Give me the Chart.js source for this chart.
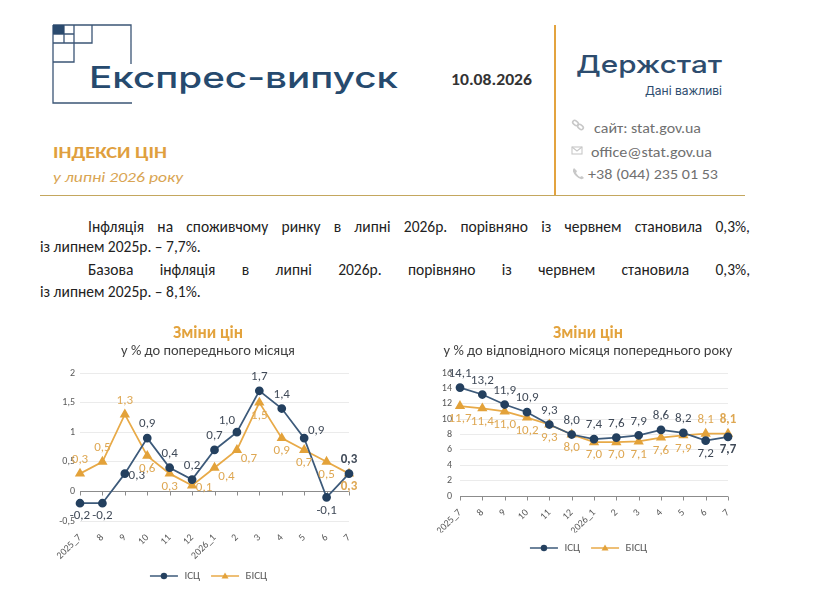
<!DOCTYPE html>
<html lang="uk">
<head>
<meta charset="utf-8">
<title>Експрес-випуск: індекси цін</title>
<script src="https://cdn.jsdelivr.net/npm/chart.js@4.4.1/dist/chart.umd.min.js"></script>
<style>
  html, body { margin: 0; padding: 0; background: #fff; }
  body { width: 829px; height: 599px; position: relative; overflow: hidden;
         font-family: Carlito, Lato, "Open Sans", sans-serif; }
  #head { position: absolute; left: 0; top: 0; }
  .ln { position: absolute; font-size: 15.5px; line-height: 20px; color: #222; }
  .just { text-align: justify; text-align-last: justify; }
  .left { white-space: nowrap; }
  .box { position: absolute; top: 318px; height: 276px; width: 376px; }
</style>
</head>
<body>

<svg id="head" width="829" height="200" xmlns="http://www.w3.org/2000/svg">
  <!-- logo squares -->
  <path d="M53 25H131V64 M53 25V103H132 M92 25V43H53 M74 25V62H53 M64 25V43 M53 34H74"
        fill="none" stroke="#3b5576" stroke-width="1.3"/>
  <rect x="53" y="25" width="11" height="9" fill="#2a4a6e"/>
  <text x="89" y="88" textLength="309" lengthAdjust="spacingAndGlyphs"
        font-family="Inter, 'Noto Sans', sans-serif" font-weight="500" font-size="29.5" fill="#264a6e">Експрес-випуск</text>
  <text x="451" y="85" textLength="81" lengthAdjust="spacingAndGlyphs"
        font-family="Carlito, Lato, sans-serif" font-weight="700" font-size="15.5" fill="#333">10.08.2026</text>

  <text x="53" y="158" textLength="114" lengthAdjust="spacingAndGlyphs"
        font-family="Carlito, Lato, sans-serif" font-weight="700" font-size="16.5" fill="#e09f3e">ІНДЕКСИ ЦІН</text>
  <text x="53" y="182" textLength="130" lengthAdjust="spacingAndGlyphs"
        font-family="Carlito, Lato, sans-serif" font-style="italic" font-size="15" fill="#d9a553">у липні 2026 року</text>

  <line x1="40" y1="195.5" x2="745" y2="195.5" stroke="#c4a75e" stroke-width="1"/>
  <line x1="555" y1="25" x2="555" y2="195" stroke="#e3a33f" stroke-width="2"/>

  <text x="576" y="73" textLength="146" lengthAdjust="spacingAndGlyphs"
        font-family="Inter, 'Noto Sans', sans-serif" font-weight="500" font-size="24" fill="#2d4c6e">Держстат</text>
  <text x="645" y="95" textLength="77" lengthAdjust="spacingAndGlyphs"
        font-family="Inter, 'Noto Sans', sans-serif" font-size="12" fill="#2d4c6e">Дані важливі</text>

  <!-- contact icons -->
  <g stroke="#c8c8c8" stroke-width="1.6" fill="none">
    <rect x="572.5" y="121" width="6" height="4" rx="2" transform="rotate(40 575.5 123)"/>
    <rect x="577.5" y="125" width="6" height="4" rx="2" transform="rotate(40 580.5 127)"/>
    <rect x="572" y="147" width="10" height="7" stroke-width="1.1"/>
    <path d="M572 147 L577 151 L582 147" stroke-width="1.1"/>
  </g>
  <path d="M574 168 q-3 3 2 8 q5 5 8 2 l-2 -2 l-2 1 q-2 -1 -4 -4 l1 -2 z" fill="#c8c8c8"/>

  <g font-family="Carlito, Lato, sans-serif" font-size="15" fill="#707070">
    <text x="594" y="133" textLength="107" lengthAdjust="spacingAndGlyphs">сайт: stat.gov.ua</text>
    <text x="591" y="157" textLength="121" lengthAdjust="spacingAndGlyphs">office@stat.gov.ua</text>
    <text x="588" y="179" textLength="130" lengthAdjust="spacingAndGlyphs">+38 (044) 235 01 53</text>
  </g>
</svg>

<div class="ln just" style="left:88px;top:217px;width:662px">Інфляція на споживчому ринку в липні 2026р. порівняно із червнем становила 0,3%,</div>
<div class="ln left" style="left:40px;top:237px">із липнем 2025р. – 7,7%.</div>
<div class="ln just" style="left:88px;top:260px;width:662px">Базова інфляція в липні 2026р. порівняно із червнем становила 0,3%,</div>
<div class="ln left" style="left:40px;top:282px">із липнем 2025р. – 8,1%.</div>

<div class="box" style="left:20px"><canvas id="mom"></canvas></div>
<div class="box" style="left:400px"><canvas id="yoy"></canvas></div>

<script>
// data
const months = ['2025_7', '8', '9', '10', '11', '12', '2026_1', '2', '3', '4', '5', '6', '7'];
const seriesNames = ['ІСЦ', 'БІСЦ'];

// y % to previous month
const cpiMoM  = [-0.2, -0.2, 0.3, 0.9, 0.4, 0.2, 0.7, 1.0, 1.7, 1.4, 0.9, -0.1, 0.3];
const coreMoM = [0.3, 0.5, 1.3, 0.6, 0.3, 0.1, 0.4, 0.7, 1.5, 0.9, 0.7, 0.5, 0.3];
const momTicks = [-0.5, 0, 0.5, 1, 1.5, 2];

// y % to same month of previous year
const cpiYoY  = [14.1, 13.2, 11.9, 10.9, 9.3, 8.0, 7.4, 7.6, 7.9, 8.6, 8.2, 7.2, 7.7];
const coreYoY = [11.7, 11.4, 11.0, 10.2, 9.3, 8.0, 7.0, 7.0, 7.1, 7.6, 7.9, 8.1, 8.1];
const yoyTicks = [0, 2, 4, 6, 8, 10, 12, 14, 16];

// where each value label sits relative to its point
const cpiMoMPlace  = ['b', 'b', 'r', 'a', 'a', 'a', 'a', 'al', 'a', 'a', 'ar', 'b', 'a'];
const coreMoMPlace = ['a', 'a', 'a', 'b', 'b', 'r', 'br', 'br', 'b', 'b', 'b', 'b', 'b'];
const cpiYoYPlace  = ['a', 'a', 'a', 'a', 'a', 'a', 'a', 'a', 'a', 'a', 'a', 'b', 'b'];
const coreYoYPlace = ['b', 'b', 'b', 'b', 'b', 'b', 'b', 'b', 'b', 'b', 'b', 'a', 'a'];

const FONT = 'Carlito, Lato, "Open Sans", sans-serif';
const BLUE = '#3d5a7a', BLUE_PT = '#24405f', BLUE_TXT = '#404a58';
const GOLD = '#e8aa48', GOLD_PT = '#e3a23a', GOLD_TXT = '#dea752';

const fmt = v => String(v).replace('.', ',');
const fmt1 = v => v.toFixed(1).replace('.', ',');

const OFFS = { a: [0, -14], b: [0, 13], r: [12, 2], ar: [12, -7], al: [-10, -11], br: [12, 9] };

// value labels next to the points
function pointLabels(places, colors) {
  return {
    id: 'pointLabels',
    afterDatasetsDraw(chart) {
      const ctx = chart.ctx;
      ctx.save();
      ctx.textAlign = 'center';
      ctx.textBaseline = 'middle';
      chart.data.datasets.forEach((ds, i) => {
        const pts = chart.getDatasetMeta(i).data;
        pts.forEach((pt, j) => {
          const o = OFFS[places[i][j]];
          ctx.font = (j === pts.length - 1 ? 'bold ' : '') + '13px ' + FONT;
          ctx.fillStyle = colors[i];
          ctx.fillText(fmt1(ds.data[j]), pt.x + o[0], pt.y + o[1]);
        });
      });
      ctx.restore();
    }
  };
}

// the horizontal axis line at zero with small tick marks
const zeroAxis = {
  id: 'zeroAxis',
  beforeDatasetsDraw(chart) {
    const { ctx, chartArea, scales: { x, y } } = chart;
    const y0 = Math.round(y.getPixelForValue(0)) + 0.5;
    ctx.save();
    ctx.strokeStyle = '#8c8c8c';
    ctx.lineWidth = 1;
    ctx.beginPath();
    ctx.moveTo(chartArea.left, y0);
    ctx.lineTo(chartArea.right, y0);
    months.forEach((m, i) => {
      const px = Math.round(x.getPixelForTick(i)) + 0.5;
      ctx.moveTo(px, y0);
      ctx.lineTo(px, y0 + 4);
    });
    ctx.stroke();
    ctx.restore();
  }
};

// little line+marker picture for the legend
function legendIcon(ds) {
  const c = document.createElement('canvas');
  c.width = 30; c.height = 10;
  const g = c.getContext('2d');
  g.strokeStyle = ds.borderColor;
  g.lineWidth = 1.5;
  g.beginPath(); g.moveTo(1, 5); g.lineTo(29, 5); g.stroke();
  g.fillStyle = ds.pointBackgroundColor;
  g.beginPath();
  if (ds.pointStyle === 'triangle') {
    g.moveTo(15, 1.5); g.lineTo(18.5, 7.5); g.lineTo(11.5, 7.5); g.closePath();
  } else {
    g.arc(15, 5, 3.2, 0, Math.PI * 2);
  }
  g.fill();
  return c;
}

function makeChart(id, cfg) {
  const datasets = [
    { label: seriesNames[0], data: cfg.cpi, borderColor: BLUE, borderWidth: 1.75,
      pointStyle: 'circle', pointRadius: 3.5, pointBackgroundColor: BLUE_PT, pointBorderColor: BLUE_PT },
    { label: seriesNames[1], data: cfg.core, borderColor: GOLD, borderWidth: 1.75,
      pointStyle: 'triangle', pointRadius: 4.2, pointBackgroundColor: GOLD_PT, pointBorderColor: GOLD_PT }
  ];
  return new Chart(document.getElementById(id), {
    type: 'line',
    data: { labels: months, datasets: datasets },
    plugins: [zeroAxis, pointLabels(cfg.places, [BLUE_TXT, GOLD_TXT])],
    options: {
      responsive: true,
      maintainAspectRatio: false,
      animation: false,
      layout: { padding: { left: 0, right: 0, top: 0, bottom: cfg.padBottom } },
      scales: {
        x: {
          offset: false,
          grid: { display: false },
          border: { display: false },
          ticks: { minRotation: 45, maxRotation: 45, autoSkip: false, padding: 3,
                   color: '#595959', font: { family: FONT, size: 10 } },
          afterFit: s => { s.height = cfg.xHeight; }
        },
        y: {
          min: cfg.ticks[0],
          max: cfg.ticks[cfg.ticks.length - 1],
          afterBuildTicks: s => { s.ticks = cfg.ticks.map(v => ({ value: v })); },
          grid: { drawTicks: false, color: c => c.tick.value === 0 ? 'rgba(0,0,0,0)' : '#ebebeb' },
          border: { display: false },
          ticks: { padding: cfg.yPad, color: '#595959', font: { family: FONT, size: 10 }, callback: v => fmt(v) },
          afterFit: s => { s.width = cfg.yWidth; }
        },
        // empty axis on the right, only keeps room for the end labels
        yRight: {
          type: 'linear',
          position: 'right',
          grid: { display: false },
          border: { display: false },
          ticks: { display: false },
          afterFit: s => { s.width = cfg.rightWidth; }
        }
      },
      plugins: {
        title: { display: true, text: 'Зміни цін', color: '#e3a33d',
                 font: { family: FONT, size: 17, weight: 'bold', lineHeight: 1 },
                 padding: { top: 7.5, bottom: 0 } },
        subtitle: { display: true, text: cfg.subtitle, color: '#404040',
                    font: { family: FONT, size: 14.5 }, padding: { top: 0, bottom: 13.1 } },
        legend: {
          position: 'bottom',
          labels: {
            usePointStyle: true, pointStyleWidth: 30, padding: 10,
            color: '#595959', font: { family: FONT, size: 11 },
            generateLabels(chart) {
              const items = Chart.defaults.plugins.legend.labels.generateLabels(chart);
              items.forEach((it, i) => { it.pointStyle = legendIcon(chart.data.datasets[i]); });
              return items;
            }
          }
        },
        tooltip: { enabled: false }
      }
    }
  });
}

makeChart('mom', {
  cpi: cpiMoM, core: coreMoM, ticks: momTicks,
  places: [cpiMoMPlace, coreMoMPlace],
  subtitle: 'у % до попереднього місяця',
  padBottom: 2.5, xHeight: 39.5, yWidth: 60, rightWidth: 47, yPad: 5
});

makeChart('yoy', {
  cpi: cpiYoY, core: coreYoY, ticks: yoyTicks,
  places: [cpiYoYPlace, coreYoYPlace],
  subtitle: 'у % до відповідного місяця попереднього року',
  padBottom: 30.5, xHeight: 36.5, yWidth: 60, rightWidth: 48, yPad: 8
});
</script>
</body>
</html>
